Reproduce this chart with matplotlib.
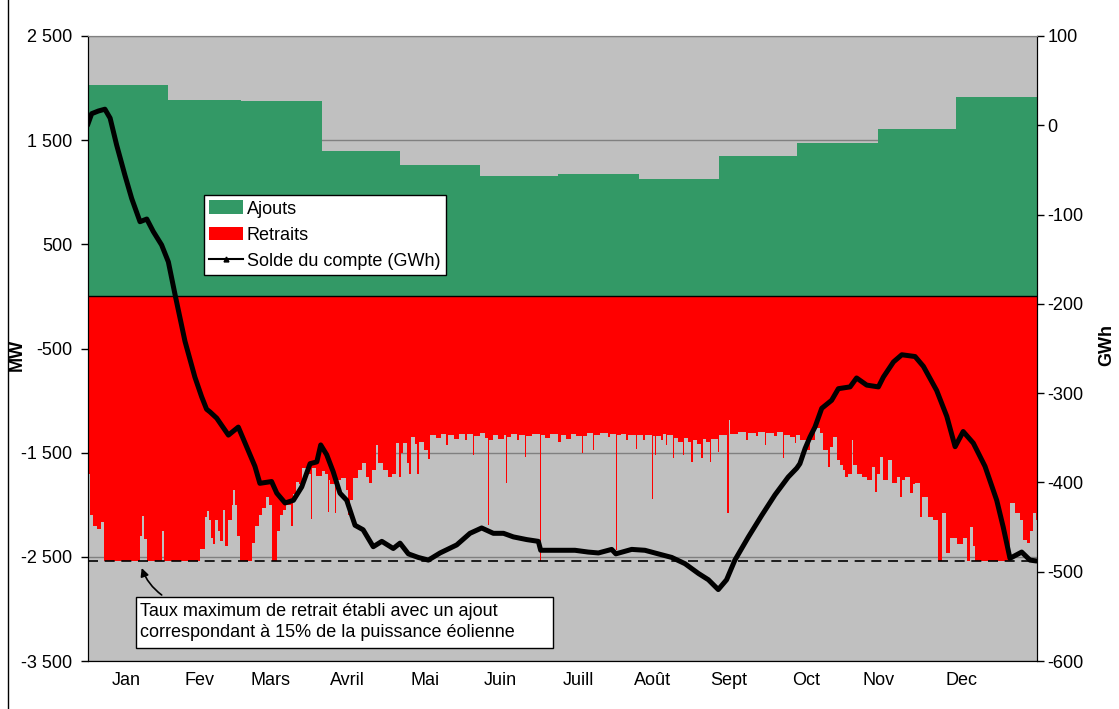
import matplotlib
matplotlib.use('Agg')
import matplotlib.pyplot as plt
import numpy as np
from matplotlib.lines import Line2D
from matplotlib.patches import Patch, Rectangle
from matplotlib.ticker import FuncFormatter

plt.rcParams['font.family'] = ['Liberation Sans', 'DejaVu Sans']

# ---------------- data ----------------
month_edges = [0, 31, 59, 90, 120, 151, 181, 212, 243, 273, 304, 334, 365]
ajouts_mw = [2030, 1885, 1875, 1400, 1262, 1160, 1176, 1131, 1352, 1476, 1610, 1914]
month_labels = ['Jan', 'Fev', 'Mars', 'Avril', 'Mai', 'Juin', 'Juill', 'Août', 'Sept', 'Oct', 'Nov', 'Dec']
label_days = [14.8, 42.9, 70.2, 99.8, 129.8, 158.7, 189.0, 217.5, 246.7, 276.3, 304.4, 336.3]

retrait_max_mw = -2540

# retrait (MW), step values starting at given day
retrait_days = [
    0, 0.8, 2, 3.5, 5, 6.3, 20.2, 20.8, 21.8, 22.8, 28.8, 29.4, 43.3, 45.2, 46, 46.7, 47.5, 48.3, 49, 50,
    51, 52.1, 53, 54, 55.5, 56.1, 56.7, 57.5, 58.5, 63.4, 64.4, 66, 67.3, 68.5, 69.8, 70.8, 72.9, 74, 75.2, 76.5,
    78.3, 79, 80.2, 81.5, 82.5, 84, 86, 86.5, 88, 90, 91.3, 92.4, 92.9,
    93.3, 95, 95.6, 97.5, 99.3, 100, 100.8, 102, 104, 105.5, 107, 108.3, 109.5, 110.8, 111.6, 113.5, 115.5, 117,
    118.5, 119.9, 120.5, 121.5, 122.7, 123.8, 124.4, 126, 126.9, 127.6, 129.5, 131, 131.6, 134, 136, 138, 138.6,
    141, 143, 145, 146, 148.2, 148.8, 151, 153, 154.1, 154.6, 156, 158, 160, 161, 161.5, 163, 165, 166, 168.1,
    168.6, 171, 173.9, 174.4, 176, 178, 181, 182, 184,
    186, 188, 190, 190.5, 192, 194.3, 194.8, 197, 200, 201, 203.1, 203.5, 205, 207, 208, 211, 211.5, 213.5, 214.5,
    217.1, 217.5, 218.3, 218.8, 220.5, 221.5, 222.4, 222.9, 225.2, 225.7, 227, 229.1, 229.6, 231, 232.3, 232.8,
    234.5, 236.1, 236.6, 238, 239.3, 239.8, 242.5, 243, 246.1, 246.6, 247, 250, 253.4, 253.9, 257, 258, 260.5,
    261, 264, 265, 267.5, 268, 270, 272, 272.5,
    274, 276.6, 277.9, 279.8, 281.7, 283, 284.9, 285.6, 286.8, 288.2, 289.4, 290.7, 291.3, 292.6, 293.9, 294.5,
    295.8, 297.8, 299.7, 301.6, 302.9, 303.5, 304.8, 306.1, 308, 309.3, 311.2, 312.5, 313.2, 314.4, 316.3, 317.5,
    318.3, 320.2, 321, 323.4, 325.3, 327.2, 328.5, 330, 331.7, 334.3, 336.8, 338.2, 339.4, 340.7, 341.3, 354.8,
    356.7, 358.7, 359.9, 361.2, 362.5, 363.8, 364.8, 365]
retrait_mw = [
    -1700, -2100, -2200, -2230, -2170, -2540, -2300, -2110, -2330, -2540, -2250, -2540, -2420, -2115, -2060, -2150,
    -2320, -2380, -2150, -2250, -2350, -2050, -2400, -2150, -2000, -1860, -2000, -2300, -2540, -2370, -2200, -2100,
    -2035, -1923, -2000, -2540, -2250, -2100, -2050, -2000, -2200, -1900, -1780, -1800, -1650, -1700, -2140, -1650,
    -1720, -1680, -1700, -2070, -1760,
    -1800, -2080, -1760, -1740, -1860, -2100, -1955, -1740, -1667, -1600, -1730, -1795, -1667, -1430, -1600, -1667,
    -1730, -1700, -1410, -1730, -1500, -1410, -1600, -1700, -1350, -1420, -1700, -1400, -1475, -1560, -1330, -1360,
    -1320, -1430, -1330, -1370, -1320, -1380, -1320, -1520, -1340, -1310, -1360, -2195, -1380, -1330, -1370, -1330,
    -1795, -1350, -1320, -1380, -1330, -1540, -1340, -1320, -2540, -1330, -1360, -1320, -1400, -1330, -1370,
    -1320, -1340, -1506, -1340, -1310, -1475, -1330, -1310, -1350, -1320, -2435, -1330, -1320, -1380, -1330, -1460,
    -1330, -1380, -1330, -1940, -1340, -1523, -1340, -1380, -1320, -1427, -1330, -1555, -1360, -1400, -1523, -1360,
    -1400, -1585, -1380, -1420, -1555, -1370, -1400, -1585, -1370, -1490, -1330, -2083, -1190, -1320, -1300, -1380,
    -1310, -1340, -1300, -1427, -1310, -1340, -1300, -1555, -1330, -1350, -1410, -1330,
    -1380, -1475, -1380, -1266, -1315, -1475, -1635, -1443, -1350, -1570, -1620, -1667, -1730, -1700, -1380, -1620,
    -1700, -1730, -1763, -1635, -1875, -1700, -1540, -1763, -1570, -1795, -1730, -1923, -1760, -1730, -1890, -1800,
    -1795, -2115, -1923, -2115, -2147, -2540, -2083, -2466, -2320, -2380, -2320, -2540, -2210, -2400, -2540, -1987,
    -2083, -2147, -2340, -2370, -2250, -2083, -2147, -2147]

solde_days = [0, 1.6, 4.2, 6.7, 8.7, 11.2, 14.4, 17, 20.2, 22.8, 25.3, 28.5, 31.1, 33.7, 37.5, 41.3, 43.9, 45.8,
              47.1, 49.7, 54.2, 58, 61.2, 64.4, 66.3, 70.8, 72.8, 76, 79.2, 82.4, 85.6, 88.2, 89.7, 92, 94.5, 97.1,
              99.7, 102.9, 106, 109.9, 113.2, 117.6, 120.2, 123.4, 127.2, 131.1, 135.6, 142, 147.1, 151.6, 156.1,
              160, 163.8, 168.9, 173.4, 174.3, 180.5, 187.5, 192.6, 196.5, 201.6, 203.2, 209.3, 214.4, 219.5,
              224.7, 229.8, 235, 238.8, 242.6, 245.8, 249, 254.2, 259.3, 264.4, 269.5, 272.8, 274, 276, 277.9,
              279.8, 282.4, 286.2, 288.8, 293.3, 295.8, 299.7, 304.2, 306.1, 310, 313.2, 318.3, 321.5, 326.6,
              330.5, 333.7, 336.8, 340.7, 345.2, 349.7, 352.2, 354.8, 359.3, 362.5, 365]
solde_gwh = [0, 13, 16, 18, 8, -22, -56, -82, -108, -105, -119, -134, -153, -190, -242, -282, -304, -318,
             -321, -328, -347, -338, -360, -382, -401, -399, -412, -423, -420, -405, -379, -377, -358, -369, -388,
             -412, -420, -448, -453, -472, -466, -474, -468, -480, -484, -487, -479, -470, -457, -451, -457,
             -457, -461, -464, -466, -476, -476, -476, -478, -479, -475, -480, -475, -476, -480,
             -484, -491, -502, -509, -520, -509, -487, -461, -437, -414, -394, -384, -379, -362, -349,
             -338, -317, -308, -295, -293, -283, -291, -293, -282, -265, -257, -259, -270, -297,
             -326, -360, -343, -356, -382, -420, -450, -485, -478, -487, -488]

# ---------------- figure ----------------
FS = 13
W, H = 1119, 709
fig = plt.figure(figsize=(W / 100, H / 100), dpi=100)
L, R, T, B = 87.5, 1036.5, 36, 661
ax = fig.add_axes([L / W, 1 - B / H, (R - L) / W, (B - T) / H])
ax.set_facecolor('#C0C0C0')
ax.set_xlim(0, 365)
ax.set_ylim(-3500, 2500)
ax.set_yticks(np.arange(-3500, 2501, 1000))
ax.yaxis.set_major_formatter(FuncFormatter(lambda v, p: f"{int(v):,}".replace(',', ' ')))
ax.grid(axis='y', color='#808080', lw=1)
ax.set_axisbelow(True)

ax.bar(month_edges[:-1], ajouts_mw, width=np.diff(month_edges), align='edge',
       color='#339966', linewidth=0, zorder=2)
ax.fill_between(retrait_days, 0, retrait_mw, step='post', color='#FF0000', lw=0, zorder=2)
ax.axhline(0, color='black', lw=1, zorder=3)
ax.axhline(retrait_max_mw, color='black', lw=1.2, ls=(0, (6, 4)), zorder=3)

ax.set_xticks(label_days)
ax.set_xticklabels(month_labels)
ax.tick_params(axis='x', length=0, pad=8, labelsize=FS)
ax.tick_params(axis='y', direction='out', length=5, width=1, pad=6, labelsize=FS)

ax2 = ax.twinx()
ax2.set_ylim(-600, 100)
ax2.set_yticks(np.arange(-600, 101, 100))
ax2.yaxis.set_major_formatter(FuncFormatter(lambda v, p: f"{int(v)}"))
ax2.tick_params(axis='y', direction='out', length=5, width=1, pad=3, labelsize=FS)
ax2.plot(solde_days, solde_gwh, color='black', lw=3.6, solid_joinstyle='round', solid_capstyle='round', zorder=5)

for a in (ax, ax2):
    a.spines['top'].set_color('#808080')
    a.spines['bottom'].set_color('black')
    a.spines['left'].set_color('black')
    a.spines['right'].set_color('black')

fig.text(17 / W, 1 - 355 / H, 'MW', rotation=90, ha='center', va='center', fontsize=FS, fontweight='bold')
fig.text(1107 / W, 1 - 345 / H, 'GWh', rotation=90, ha='center', va='center', fontsize=FS, fontweight='bold')

handles = [Patch(facecolor='#339966', edgecolor='none'),
           Patch(facecolor='#FF0000', edgecolor='none'),
           Line2D([], [], color='black', lw=1.5, marker='^', markersize=3.5)]
leg = ax2.legend(handles, ['Ajouts', 'Retraits', 'Solde du compte (GWh)'],
                 loc='upper left', bbox_to_anchor=(204 / W, 1 - 195 / H), bbox_transform=fig.transFigure,
                 borderaxespad=0, fancybox=False, frameon=True, framealpha=1, edgecolor='black',
                 fontsize=FS, handlelength=1.85, handleheight=0.8, handletextpad=0.22,
                 labelspacing=0.5, borderpad=0.3)
leg.get_frame().set_linewidth(1)
leg.set_zorder(10)

# annotation box
fig.patches.append(Rectangle((136 / W, 1 - 648 / H), 417 / W, 51 / H, transform=fig.transFigure,
                             facecolor='white', edgecolor='black', lw=1, zorder=10))
fig.text(140 / W, 1 - 622 / H,
         'Taux maximum de retrait établi avec un ajout\ncorrespondant à 15% de la puissance éolienne',
         ha='left', va='center', fontsize=FS, linespacing=1.33, zorder=11)
ax2.annotate('', xy=(141.7, H - 568), xycoords='figure pixels',
             xytext=(161.7, H - 595), textcoords='figure pixels',
             arrowprops=dict(arrowstyle='-|>', color='black', lw=1.2, mutation_scale=12,
                             connectionstyle='arc3,rad=-0.15', shrinkA=0, shrinkB=0))

fig.add_artist(Line2D([7.5 / W, 7.5 / W], [0, 1], color='black', lw=1, transform=fig.transFigure))

fig.savefig('out.png', dpi=100)
